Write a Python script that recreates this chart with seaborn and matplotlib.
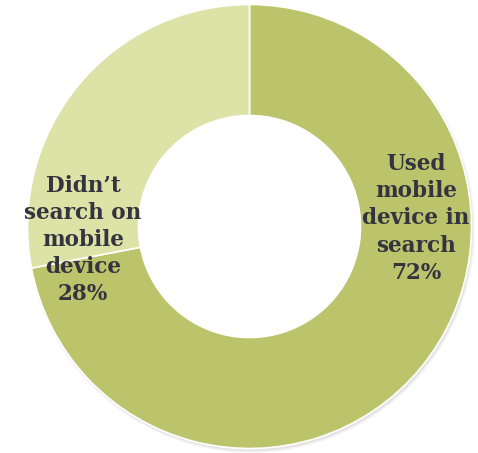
import matplotlib
matplotlib.use("Agg")
import matplotlib.pyplot as plt
from matplotlib.patches import Wedge
import seaborn as sns

# Survey split: share of searchers who used a mobile device
categories = ["Used mobile device in search", "Didn't search on mobile device"]
shares = [72, 28]
label_lines = ["Used\nmobile\ndevice in\nsearch", "Didn\u2019t\nsearch on\nmobile\ndevice"]
colors = ["#BBC36B", "#DDE3A7"]

sns.set_theme(style="white")
plt.rcParams["font.family"] = ["DejaVu Serif", "DejaVu Sans"]

W, H = 478, 453
fig = plt.figure(figsize=(W / 100, H / 100), dpi=100)
ax = fig.add_axes([0, 0, 1, 1])

cx, cy = 249.5, H - 226.5
R = 222

# soft drop shadow under the outer rim of the ring
for i, a in enumerate([0.05, 0.07, 0.09]):
    ax.add_patch(Wedge((cx + 1.5, cy - 2.5), R + 2 - i, 0, 360, width=40,
                       color="#808080", alpha=a, zorder=0, lw=0))

ax.pie(
    shares, colors=colors, startangle=90, counterclock=False,
    radius=R, center=(cx, cy), frame=True,
    wedgeprops=dict(width=R * 0.5, edgecolor="white", linewidth=1.2),
)
ax.set_xlim(0, W)
ax.set_ylim(0, H)
ax.set_aspect("equal")
ax.axis("off")

text_pos = [(416, H - 218.5), (83, H - 240)]
for lines, share, (tx, ty) in zip(label_lines, shares, text_pos):
    ax.text(tx, ty, f"{lines}\n{share}%", ha="center", va="center",
            fontsize=15.5, fontweight="bold", color="#33343F",
            linespacing=1.3, zorder=5)

fig.savefig("out.png", dpi=100)
